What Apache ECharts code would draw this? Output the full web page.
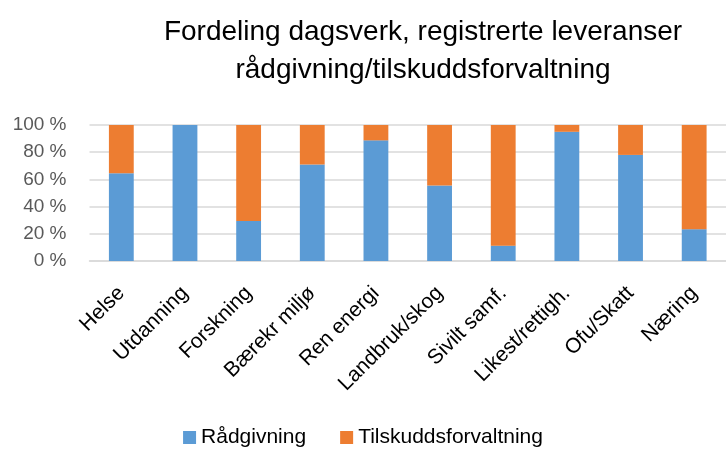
<!DOCTYPE html>
<html>
<head>
<meta charset="utf-8">
<script src="https://cdn.jsdelivr.net/npm/echarts@6/dist/echarts.min.js"></script>
<style>
html, body { margin: 0; padding: 0; background: #fff; }
#chart { width: 726px; height: 450px; }
</style>
</head>
<body>
<div id="chart"></div>
<script>
// kategorier og andeler (prosent) lest fra figuren
const kategorier = ['Helse', 'Utdanning', 'Forskning', 'Bærekr miljø', 'Ren energi', 'Landbruk/skog', 'Sivilt samf.', 'Likest/rettigh.', 'Ofu/Skatt', 'Næring'];
const raadgivning = [64.5, 100, 29.5, 71, 88.7, 55.6, 11.3, 95, 78, 23.4];
const tilskudd = raadgivning.map(v => +(100 - v).toFixed(1));
const yTicks = [0, 20, 40, 60, 80, 100];

const fontFam = '"Liberation Sans", "Open Sans", sans-serif';

function addChart(dom, option) {
	let myChart = echarts.init(dom);
	myChart.setOption(option);
	return myChart;
}

const option = {
	animation: false,
	textStyle: { fontFamily: fontFam },
	title: {
		text: 'Fordeling dagsverk, registrerte leveranser\nrådgivning/tilskuddsforvaltning',
		left: 418,
		top: 8,
		textAlign: 'center',
		textStyle: { fontSize: 28, fontWeight: 'normal', color: '#000', lineHeight: 38, fontFamily: fontFam }
	},
	legend: {
		bottom: -3,
		left: 'center',
		itemWidth: 13,
		itemHeight: 13,
		itemGap: 34,
		icon: 'rect',
		textStyle: { fontSize: 21, color: '#000', fontFamily: fontFam },
		data: ['Rådgivning', 'Tilskuddsforvaltning']
	},
	grid: { left: 89.5, right: -4, top: 125, bottom: 189, containLabel: false },
	xAxis: {
		type: 'category',
		data: kategorier,
		axisLine: { lineStyle: { color: '#d9d9d9', width: 1.5 } },
		axisTick: { show: false },
		axisLabel: { rotate: 45, interval: 0, fontSize: 21, color: '#000', margin: 29, fontFamily: fontFam }
	},
	yAxis: {
		type: 'value',
		min: yTicks[0],
		max: yTicks[yTicks.length - 1],
		interval: 20,
		axisLine: { show: false },
		axisTick: { show: false },
		splitLine: { lineStyle: { color: '#d9d9d9', width: 1.5 } },
		axisLabel: { formatter: '{value} %', fontSize: 19, color: '#595959', margin: 23, fontFamily: fontFam }
	},
	series: [
		{
			name: 'Rådgivning',
			type: 'bar',
			stack: 'tot',
			barWidth: '39%',
			data: raadgivning,
			itemStyle: { color: '#5b9bd5' }
		},
		{
			name: 'Tilskuddsforvaltning',
			type: 'bar',
			stack: 'tot',
			barWidth: '39%',
			data: tilskudd,
			itemStyle: { color: '#ed7d31' }
		}
	]
};

addChart(document.getElementById('chart'), option);
</script>
</body>
</html>
